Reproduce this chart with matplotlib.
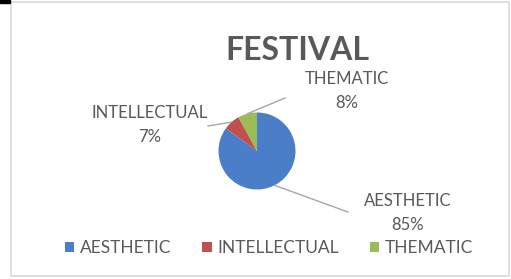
import numpy as np
import matplotlib
matplotlib.use("Agg")
import matplotlib.pyplot as plt
from matplotlib.patches import Rectangle

categories = ["AESTHETIC", "INTELLECTUAL", "THEMATIC"]
shares = [85, 7, 8]
colors = ["#4A7EC8", "#C0504D", "#9BBB59"]

TEXT = "#595959"
W, H = 511, 279

plt.rcParams["font.family"] = ["Lato", "DejaVu Sans"]

fig = plt.figure(figsize=(W / 100, H / 100), dpi=100)
ax = fig.add_axes([0, 0, 1, 1])

# chart frame
ax.add_patch(Rectangle((10.5, 1.5), 499, 274, fill=False, ec="#d9d9d9", lw=1.2))
ax.add_patch(Rectangle((0, 0), 10, 2.5, color="black"))

# y axis is inverted (pixel coords), so start at -90 and go counterclockwise
# in data space to get a clockwise pie from 12 o'clock on screen
cx, cy, r = 257, 151, 38.5
wedges, _ = ax.pie(shares, colors=colors, startangle=-90, counterclock=True,
                   center=(cx, cy), radius=r, frame=True,
                   wedgeprops=dict(linewidth=0))
ax.set_xlim(0, W)
ax.set_ylim(H, 0)
ax.set_aspect("equal")
ax.axis("off")

ax.text(297, 50, "FESTIVAL", ha="center", va="center", fontsize=23,
        fontweight="bold", color=TEXT)

label_pos = {"AESTHETIC": (408, 213), "INTELLECTUAL": (150, 125), "THEMATIC": (347, 91)}
line_end = {"AESTHETIC": (348, 212), "INTELLECTUAL": (208, 126), "THEMATIC": (285, 98)}
for w, name, pct in zip(wedges, categories, shares):
    mid = np.deg2rad((w.theta1 + w.theta2) / 2)
    sx = cx + r * np.cos(mid)
    sy = cy + r * np.sin(mid)
    ex, ey = line_end[name]
    ax.plot([sx, ex], [sy, ey], color="#a6a6a6", lw=1)
    lx, ly = label_pos[name]
    ax.text(lx, ly, f"{name}\n{pct}%", ha="center", va="center",
            fontsize=12, color=TEXT, linespacing=1.65)

leg = fig.legend(wedges, categories, loc="center", bbox_to_anchor=(269 / W, 1 - 248 / H),
                 ncol=3, frameon=False, fontsize=12.5, labelcolor=TEXT,
                 handlelength=0.55, handleheight=0.55, handletextpad=0.3,
                 columnspacing=1.8)

fig.savefig("out.png", dpi=100)
